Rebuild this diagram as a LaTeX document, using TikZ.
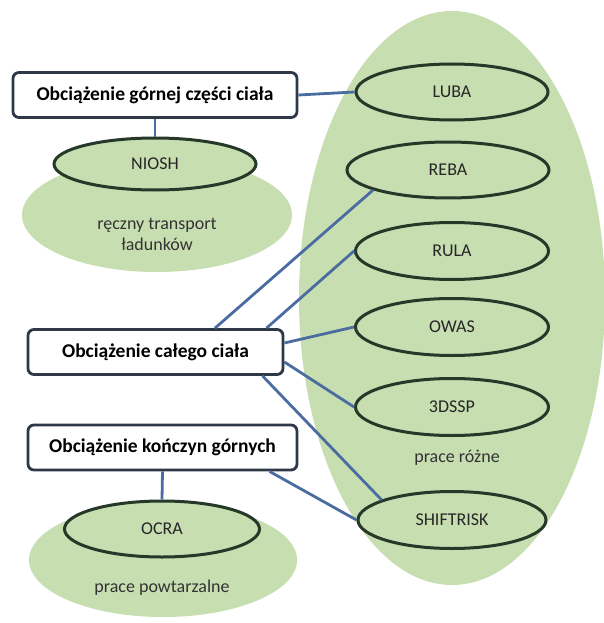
\documentclass[tikz,border=0pt]{standalone}
\usepackage{fontspec}
\setmainfont{Carlito}
\usetikzlibrary{shapes.geometric}
\definecolor{leaf}{RGB}{199,222,177}
\definecolor{rimdark}{RGB}{38,56,40}
\definecolor{linkblue}{RGB}{74,108,160}
\definecolor{boxrim}{RGB}{46,56,70}
\tikzset{
  method/.style={ellipse, draw=rimdark, line width=3pt, fill=leaf, inner sep=0pt,
    font=\fontsize{18}{20}\selectfont, text=black!85},
  loadbox/.style={rectangle, rounded corners=6pt, draw=boxrim, line width=2.8pt, fill=white,
    inner sep=0pt, font=\bfseries\fontsize{19.5}{22}\selectfont, text=black},
  link/.style={draw=linkblue, line width=2.8pt},
  note/.style={font=\fontsize{18}{21}\selectfont, text=black!80, align=center}
}
\begin{document}
\begin{tikzpicture}[x=1pt,y=-1pt]
\useasboundingbox (0,0) rectangle (603,623);
% green background blobs
\fill[leaf] (452,298) ellipse [x radius=153pt, y radius=287pt];
\fill[leaf] (157,215) ellipse [x radius=135pt, y radius=57pt];
\fill[leaf] (163,560) ellipse [x radius=134pt, y radius=57pt];
% boxes
\node[loadbox, minimum width=284pt, minimum height=45pt] (gorna) at (155,95) {Obciążenie górnej części ciała};
\node[loadbox, minimum width=255pt, minimum height=45pt] (cale) at (155.5,352) {Obciążenie całego ciała};
\node[loadbox, minimum width=269pt, minimum height=45pt] (konczyny) at (162.5,447.5) {Obciążenie kończyn górnych};
% method ellipses
\node[method, minimum width=202pt, minimum height=52pt] (niosh) at (155,164) {NIOSH};
\node[method, minimum width=195pt, minimum height=56pt] (ocra) at (162,529) {OCRA};
\node[method, minimum width=192pt, minimum height=56pt] (luba) at (452,92) {LUBA};
\node[method, minimum width=202pt, minimum height=56pt] (reba) at (448,170) {REBA};
\node[method, minimum width=193pt, minimum height=57pt] (rula) at (452,251) {RULA};
\node[method, minimum width=193pt, minimum height=57pt] (owas) at (452,327) {OWAS};
\node[method, minimum width=193pt, minimum height=57pt] (dssp) at (452,407) {3DSSP};
\node[method, minimum width=188pt, minimum height=57pt] (shift) at (452,520) {SHIFTRISK};
% notes
\node[note] (n1) at (157,234) {ręczny transport\\ładunków};
\node[note] (n2) at (457,458) {prace różne};
\node[note] (n3) at (162,588) {prace powtarzalne};
% connectors
\path[link] (gorna.east) -- (luba.west);
\path[link] (gorna.south) -- (niosh.north);
\path[link] (konczyny.south) -- (ocra.north);
\path[link] ([xshift=59.5pt]cale.north) -- (reba.195);
\path[link] ([xshift=111pt]cale.north) -- (rula.west);
\path[link] ([yshift=9pt]cale.east) -- (owas.west);
\path[link] ([yshift=-10pt]cale.east) -- (dssp.west);
\path[link] ([xshift=107pt]cale.south) -- (shift.164);
\path[link] ([xshift=107pt]konczyny.south) -- (shift.west);
\end{tikzpicture}
\end{document}
